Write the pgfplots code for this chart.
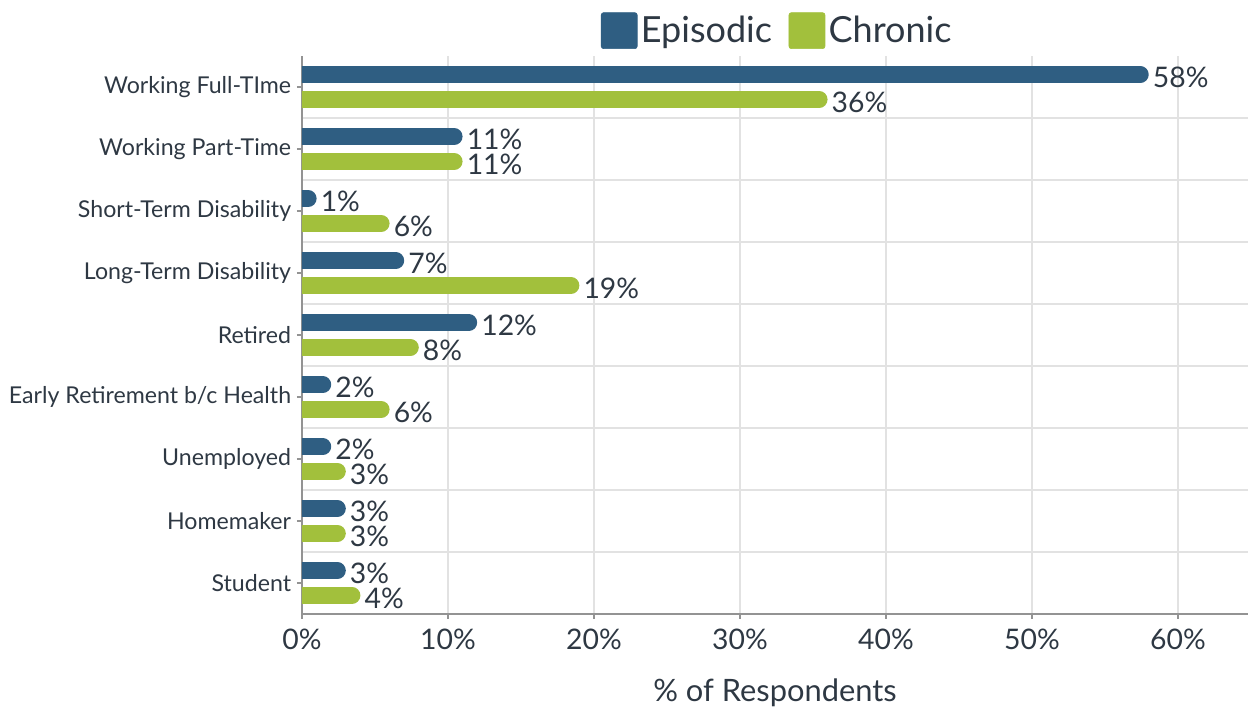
\documentclass[border=0pt]{standalone}
\usepackage{pgfplots}
\pgfplotsset{compat=1.18}
\usepackage{pgfplotstable}
\usepackage{fontspec}
\setmainfont{Lato}
\definecolor{epi}{HTML}{2F5E82}
\definecolor{chr}{HTML}{A2C03C}
\definecolor{txt}{HTML}{2E3843}
\definecolor{gridc}{HTML}{E2E2E2}

% row: 0 = Working Full-Time (top) ... 8 = Student (bottom)
\pgfplotstableread{
row v
0 58
1 11
2 1
3 7
4 12
5 2
6 2
7 3
8 3
}\epitab
\pgfplotstableread{
row v
0 36
1 11
2 6
3 19
4 8
5 6
6 3
7 3
8 4
}\chrtab

\begin{document}
\begin{tikzpicture}
\path[use as bounding box] (-181.2pt,-58.8pt) rectangle (568.8pt,368.4pt);
\begin{axis}[
  scale only axis,
  width=567.6pt, height=334.8pt,
  xmin=0, xmax=64.8,
  ymin=-0.5, ymax=8.5,
  /pgf/number format/assume math mode=true,
  axis lines*=left,
  axis line style={-, draw=gray!85, line width=0.9pt},
  xtick={0,10,...,60},
  xticklabel={\pgfmathprintnumber{\tick}\%},
  ytick={0,...,8},
  yticklabels={Student,Homemaker,Unemployed,Early Retirement b/c Health,Retired,Long-Term Disability,Short-Term Disability,Working Part-Time,Working Full-TIme},
  minor ytick={0.5,1.5,...,7.5},
  xmajorgrids=true, yminorgrids=true,
  major grid style={draw=gridc, line width=0.8pt},
  minor grid style={draw=gridc, line width=0.8pt},
  tick align=outside,
  major tick length=3pt, minor tick length=0pt,
  tick style={draw=gray!85, line width=0.8pt},
  xticklabel style={font=\fontsize{17}{20}\selectfont, text=txt, yshift=-2.5pt},
  yticklabel style={font=\fontsize{13.9}{16}\selectfont, text=txt},
  xlabel={\% of Respondents},
  xlabel style={font=\fontsize{18.5}{22}\selectfont, text=txt, at={(axis description cs:0.5,0)}, anchor=center, yshift=-47.5pt},
  legend style={at={(0.503,1)}, anchor=south, yshift=4pt, draw=none, fill=none, inner sep=0pt,
    font=\fontsize{21.6}{25}\selectfont, text=txt, legend columns=-1,
    /tikz/every even column/.append style={column sep=8pt}},
  nodes near coords={\pgfmathprintnumber{\pgfplotspointmeta}\%},
  every node near coord/.append style={anchor=west, xshift=2pt, yshift=-1.8pt, inner sep=0.5pt,
    text height=12.2pt, text depth=0pt, font=\fontsize{17}{20}\selectfont, text=txt},
]
\addlegendimage{legend image code/.code={\fill[epi, rounded corners=1.5pt] (0pt,-10.8pt) rectangle (21.6pt,10.8pt);}}
\addlegendentry{Episodic}
\addlegendimage{legend image code/.code={\fill[chr, rounded corners=1.5pt] (0pt,-10.8pt) rectangle (21.6pt,10.8pt);}}
\addlegendentry{Chronic}
\addplot[xcomb, draw=epi, line width=10pt, line cap=round, point meta=explicit]
  table[x expr=\thisrow{v}-0.57, y expr=8-\thisrow{row}+0.2, meta=v] {\epitab};
\addplot[xcomb, draw=chr, line width=10pt, line cap=round, point meta=explicit]
  table[x expr=\thisrow{v}-0.57, y expr=8-\thisrow{row}-0.2, meta=v] {\chrtab};
\end{axis}
\end{tikzpicture}
\end{document}
